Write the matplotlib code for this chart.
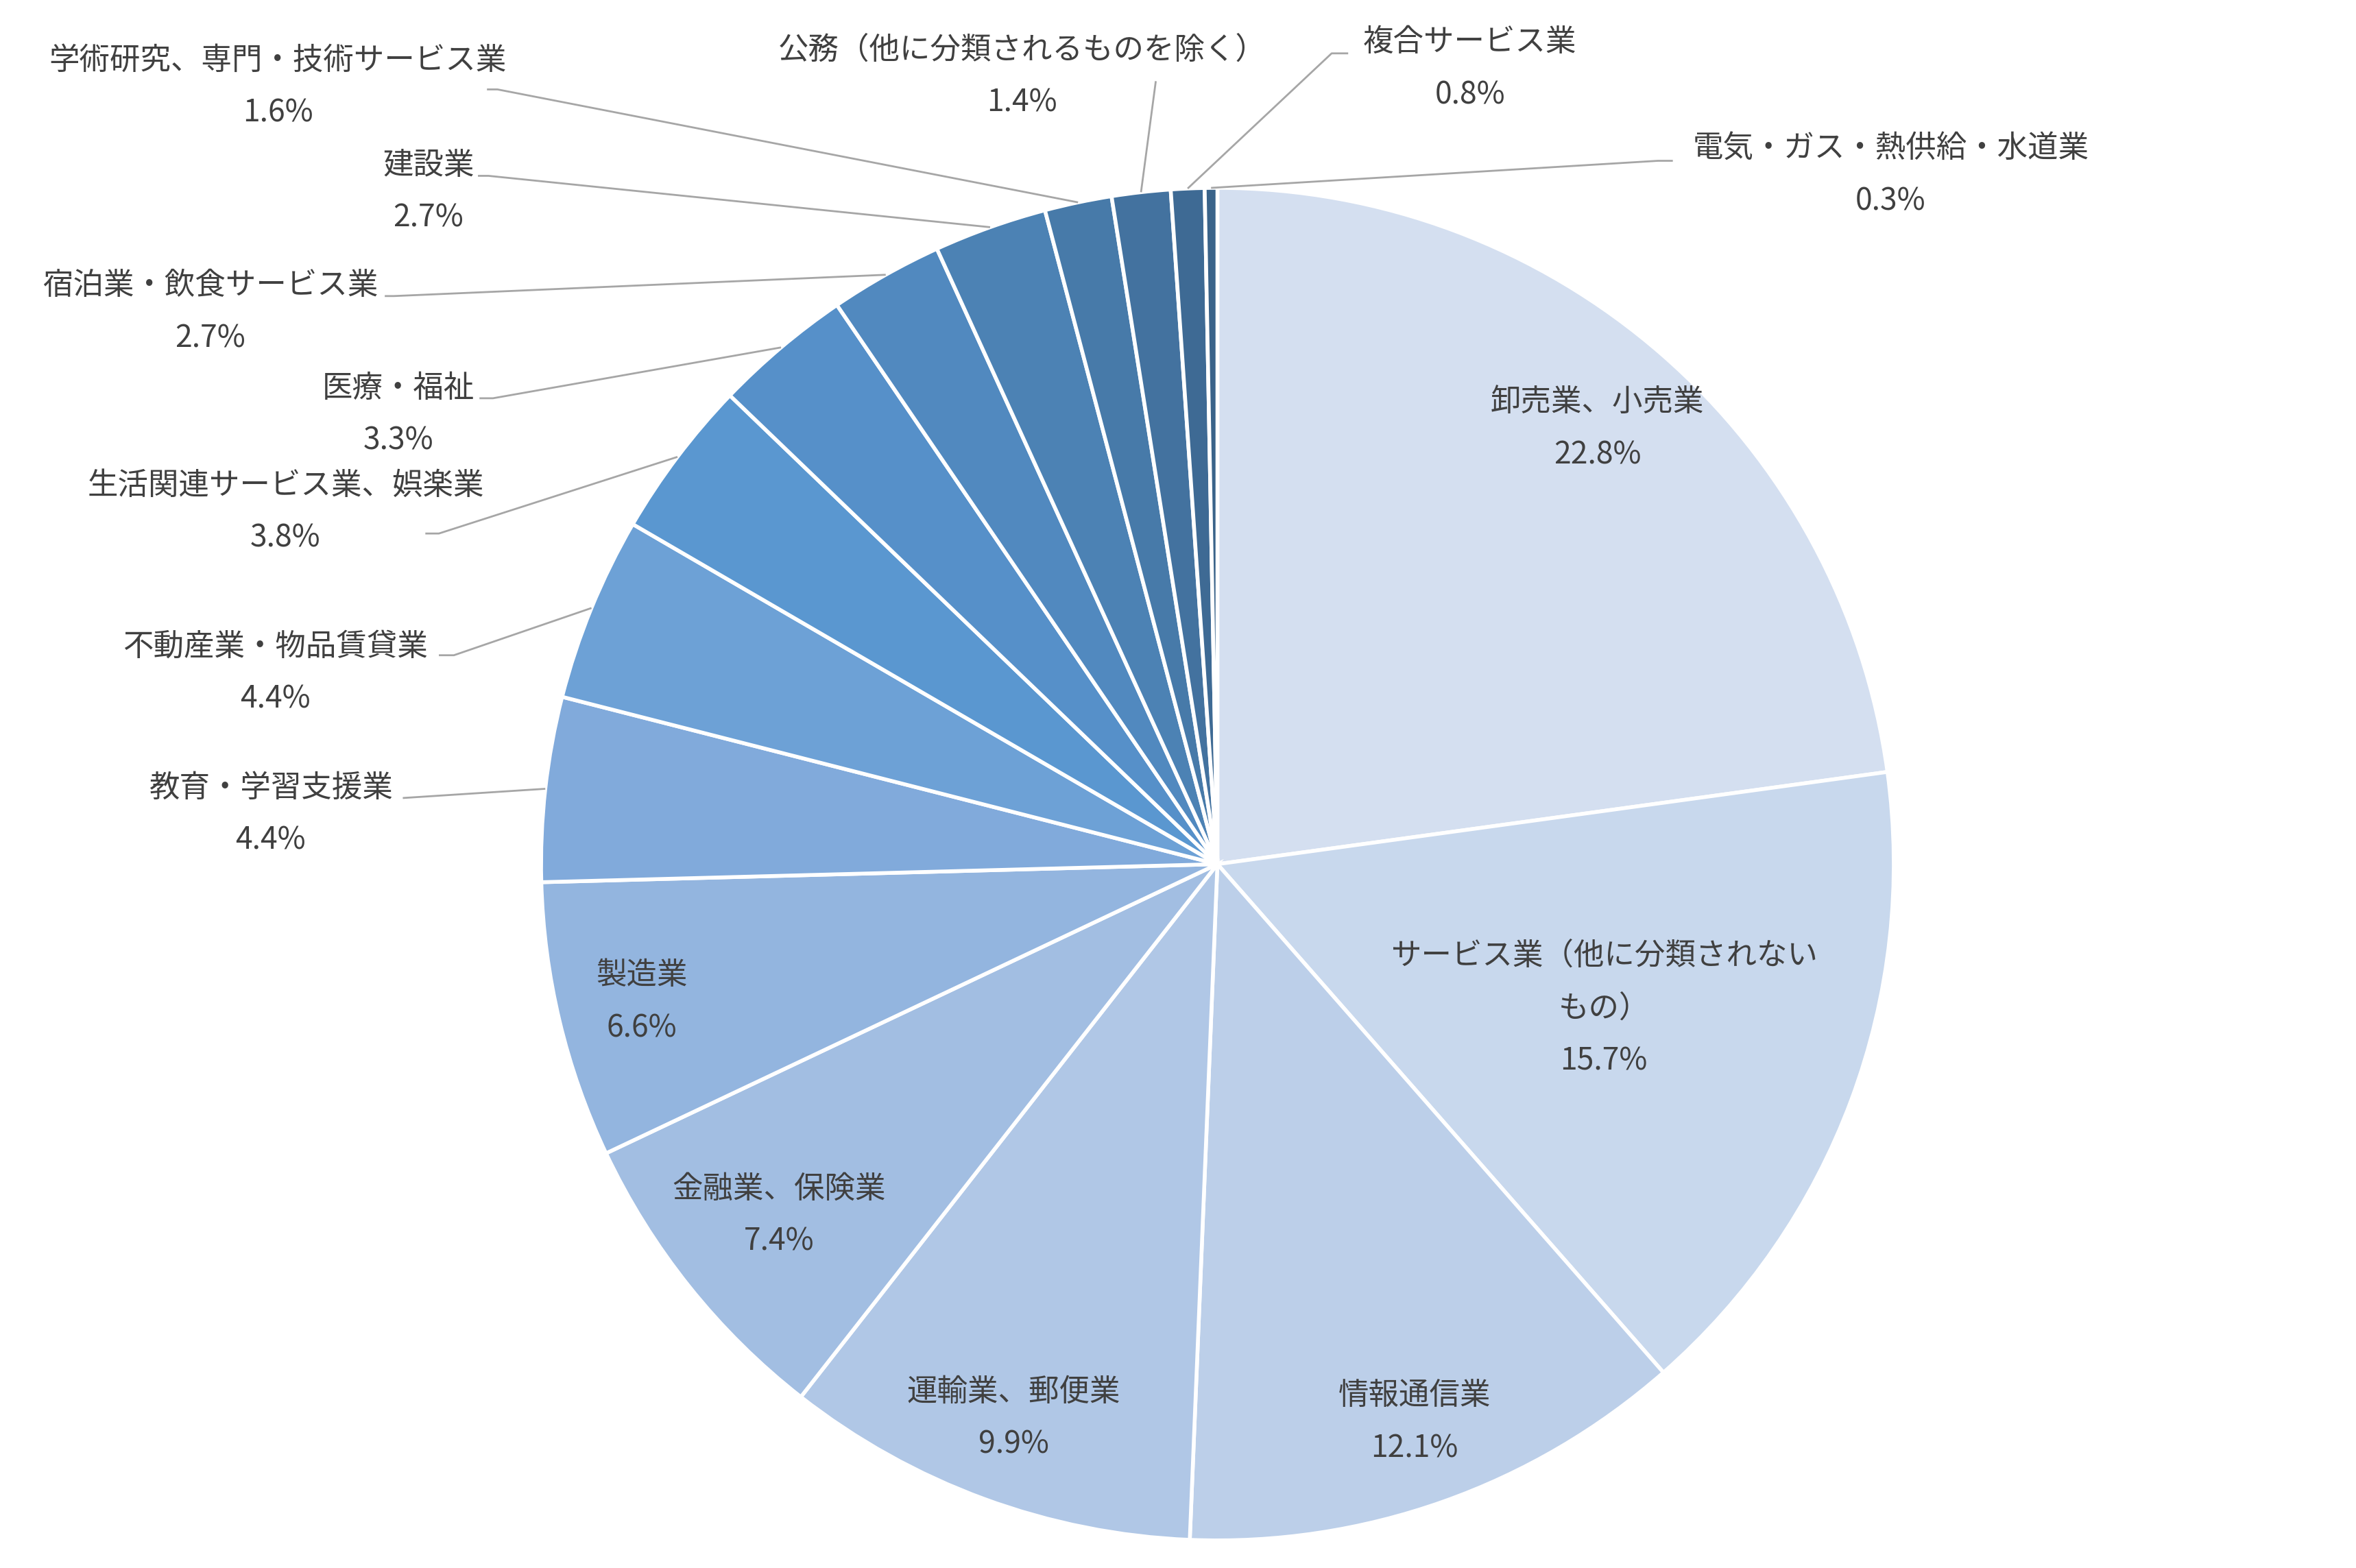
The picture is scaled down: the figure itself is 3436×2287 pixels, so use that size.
import matplotlib
matplotlib.use("Agg")
import matplotlib.pyplot as plt
import numpy as np

plt.rcParams['font.family'] = ['Noto Sans CJK JP', 'DejaVu Sans']

# ---- data ----
categories = [
    "卸売業、小売業",
    "サービス業（他に分類されない\nもの）",
    "情報通信業",
    "運輸業、郵便業",
    "金融業、保険業",
    "製造業",
    "教育・学習支援業",
    "不動産業・物品賃貸業",
    "生活関連サービス業、娯楽業",
    "医療・福祉",
    "宿泊業・飲食サービス業",
    "建設業",
    "学術研究、専門・技術サービス業",
    "公務（他に分類されるものを除く）",
    "複合サービス業",
    "電気・ガス・熱供給・水道業",
]
values = [22.8, 15.7, 12.1, 9.9, 7.4, 6.6, 4.4, 4.4, 3.8, 3.3, 2.7, 2.7, 1.6, 1.4, 0.8, 0.3]
colors = [
    "#D4DFF0", "#C8D8ED", "#BCCFE9", "#B0C7E6", "#A2BEE2", "#93B5DF",
    "#81AADB", "#6DA1D6", "#5A97D0", "#5690C9", "#5189BF", "#4C82B4",
    "#477AA9", "#43729F", "#3E6A94", "#3A6389",
]

# ---- layout ----
W, H = 3437, 2287
S = 3437 / 1568.0          # reference-view to pixel scale
TXT = "#404040"
FS = 32
LINE_GAP = 35 * S          # px between label lines

def P(xd, yd):
    return xd * S, H - yd * S

cx, cy = P(810, 575)
R = 450 * S

fig = plt.figure(figsize=(W / 100, H / 100), dpi=100)
ax = fig.add_axes([0, 0, 1, 1])

wedges, _ = ax.pie(values, colors=colors, startangle=90, counterclock=False,
                   center=(cx, cy), radius=R,
                   wedgeprops=dict(edgecolor='white', linewidth=4))
ax.set_xlim(0, W)
ax.set_ylim(0, H)
ax.set_aspect('equal')
ax.axis('off')

total = sum(values)
cum = np.cumsum([0] + values[:-1])
mid_angles = [90 - (c + v / 2) / total * 360 for c, v in zip(cum, values)]

def label_block(x, y, name, pct, ha='center'):
    lines = name.split("\n") + [pct]
    n = len(lines)
    top = y + (n - 1) * LINE_GAP / 2
    for i, t in enumerate(lines):
        ax.text(x, top - i * LINE_GAP, t, ha=ha, va='center', fontsize=FS, color=TXT)

# inside labels (first 6 slices): radius fraction of the block centre
inside_r = [0.855, 0.61, 0.875, 0.873, 0.83, 0.875]
for i, fr in enumerate(inside_r):
    a = np.deg2rad(mid_angles[i])
    x = cx + fr * R * np.cos(a)
    y = cy + fr * R * np.sin(a)
    label_block(x, y, categories[i], f"{values[i]:.1f}%")

# outside labels: (name-line centre, elbow point, line end) in reference-view coords
outside = [
    ((180, 524), (268, 531), (268, 531)),
    ((183, 430), (302, 436), (292, 436)),
    ((190, 323), (292, 355), (283, 355)),
    ((265, 258), (328, 265), (319, 265)),
    ((140, 190), (262, 197), (256, 197)),
    ((285, 110), (325, 117), (318, 117)),
    ((185, 40), (331, 59.5), (324, 59.5)),
    ((680, 33), (769, 54), (769, 54)),
    ((978, 28), (886, 35.5), (897, 35.5)),
    ((1258, 99), (1103, 107), (1113, 107)),
]
for k, (tpos, elbow, end) in enumerate(outside):
    i = 6 + k
    a = np.deg2rad(mid_angles[i])
    sx = cx + R * np.cos(a)
    sy = cy + R * np.sin(a)
    ex, ey = P(*elbow)
    fx, fy = P(*end)
    ax.plot([sx, ex, fx], [sy, ey, fy], color="#A6A6A6", linewidth=2.0,
            solid_capstyle='butt', zorder=1)
    tx, ty = P(*tpos)
    ax.text(tx, ty, categories[i], ha='center', va='center', fontsize=FS, color=TXT)
    ax.text(tx, ty - LINE_GAP, f"{values[i]:.1f}%", ha='center', va='center',
            fontsize=FS, color=TXT)

fig.savefig("out.png", dpi=100, facecolor='white')
